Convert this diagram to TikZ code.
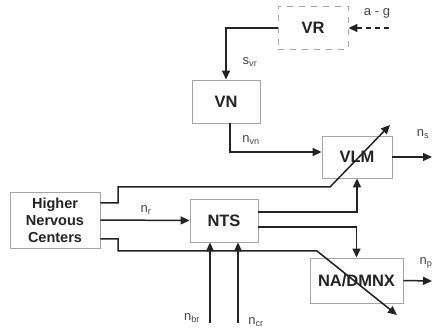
\documentclass[tikz,border=0pt]{standalone}
\usepackage{fontspec}
\setmainfont{Liberation Sans}
\usetikzlibrary{arrows.meta, positioning, calc}
\definecolor{boxc}{RGB}{165,165,165}
\definecolor{linec}{RGB}{35,35,35}

\tikzset{
  block/.style={draw=boxc, line width=0.9pt, fill=white, text=linec, inner sep=0pt,
    font=\bfseries\fontsize{16.5}{18}\selectfont},
  sig/.style={draw=linec, line width=1.5pt, -{Triangle[length=9pt,width=8pt]}},
  lbl/.style={text=linec!85, font=\fontsize{13}{14}\selectfont}
}

\begin{document}
\begin{tikzpicture}[x=1pt,y=-1pt]
  \useasboundingbox (0,0) rectangle (433,328);
  % blocks
  \node[block, dashed, dash pattern=on 6pt off 6pt, minimum width=70pt, minimum height=43pt] (vr) at (313,28) {VR};
  \node[block, minimum width=68pt, minimum height=43pt] (vn) at (226,101.5) {VN};
  \node[block, minimum width=70pt, minimum height=42pt] (vlm) at (357,157) {VLM};
  \node[block, minimum width=90pt, minimum height=56pt, align=center,
    font=\bfseries\fontsize{14.5}{17}\selectfont] (hnc) at (55,220) {Higher\\Nervous\\Centers};
  \node[block, minimum width=68pt, minimum height=43pt] (nts) at (224,220.5) {NTS};
  \node[block, minimum width=93pt, minimum height=45pt] (nad) at (356.5,280.5) {NA/DMNX};
  % free ends and turning points
  \coordinate (ag) at (389,28);
  \coordinate (top1) at (118,187);
  \coordinate (top2) at (330,187);
  \coordinate (topend) at (390,125);
  \coordinate (bot1) at (118,251);
  \coordinate (bot2) at (317,251);
  \coordinate (botend) at (397,315);
  \coordinate (brin) at (210,323);
  \coordinate (crin) at (238,323);
  \coordinate (nsout) at (432,157);
  \coordinate (npout) at (432,281);
  % connectors
  \draw[sig, dashed, dash pattern=on 5pt off 4pt] (ag) -- (vr.east);
  \draw[sig] (vr.west) -| (vn.north);
  \draw[sig] ([xshift=4pt]vn.south) |- ([yshift=5pt]vlm.west);
  \draw[sig] (hnc.east) -- (nts.west);
  \draw[sig] ([yshift=17pt]hnc.east) -| (top1) -- (top2) -- (topend);
  \draw[sig] ([yshift=-19pt]hnc.east) -| (bot1) -- (bot2) -- (botend);
  \draw[sig] (brin) -- (brin |- nts.south);
  \draw[sig] (crin) -- (crin |- nts.south);
  \draw[sig] ([yshift=8.5pt]nts.east) -| (vlm.south);
  \draw[sig] ([yshift=-6.5pt]nts.east) -| (nad.north);
  \draw[sig] (vlm.east) -- (nsout);
  \draw[sig] (nad.east) -- (npout);
  % labels
  \node[lbl] (aglbl) at (377,13) {a - g};
  \node[lbl] (svr) at (250,62) {s\textsubscript{vr}};
  \node[lbl] (nvn) at (251,140) {n\textsubscript{vn}};
  \node[lbl] (nslbl) at (423,134) {n\textsubscript{s}};
  \node[lbl] (nrlbl) at (146,210) {n\textsubscript{r}};
  \node[lbl] (nbr) at (192,318) {n\textsubscript{br}};
  \node[lbl] (ncr) at (256,322) {n\textsubscript{cr}};
  \node[lbl] (nplbl) at (426,263) {n\textsubscript{p}};
\end{tikzpicture}
\end{document}
